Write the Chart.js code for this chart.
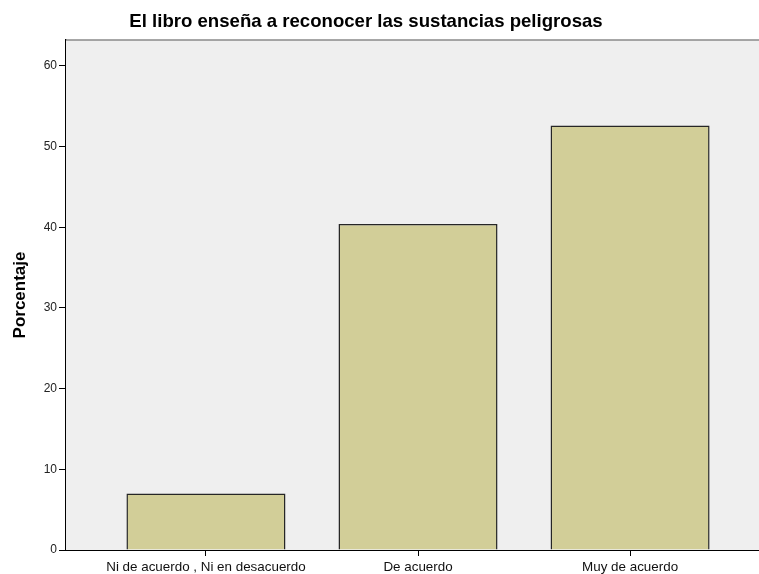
<!DOCTYPE html>
<html>
<head>
<meta charset="utf-8">
<script src="https://cdn.jsdelivr.net/npm/chart.js@4/dist/chart.umd.min.js"></script>
<style>
  html, body { margin: 0; padding: 0; background: #ffffff; }
  #wrap { position: relative; width: 759px; height: 574px; }
</style>
</head>
<body>
<div id="wrap"><canvas id="c" width="759" height="574"></canvas></div>
<script>
const chartTitle = 'El libro enseña a reconocer las sustancias peligrosas';
const yAxisTitle = 'Porcentaje';
const categories = ['Ni de acuerdo , Ni en desacuerdo', 'De acuerdo', 'Muy de acuerdo'];
const percentages = [7.0, 40.4, 52.6];
const yTickValues = [0, 10, 20, 30, 40, 50, 60];

const FONT = "'Liberation Sans', Arial, sans-serif";

const plotDecor = {
  id: 'plotDecor',
  beforeDatasetsDraw(chart) {
    const { ctx, chartArea: a } = chart;
    ctx.save();
    ctx.fillStyle = '#efefef';
    ctx.fillRect(a.left, a.top, a.right - a.left, a.bottom - a.top);
    ctx.strokeStyle = '#8a8a8a';
    ctx.lineWidth = 1.5;
    ctx.beginPath();
    ctx.moveTo(a.left, a.top);
    ctx.lineTo(a.right, a.top);
    ctx.stroke();
    ctx.restore();
  },
  afterDraw(chart) {
    const { ctx } = chart;
    ctx.save();
    ctx.font = 'bold 18.6px ' + FONT;
    ctx.fillStyle = '#000';
    ctx.textAlign = 'center';
    ctx.textBaseline = 'alphabetic';
    ctx.fillText(chartTitle, 366, 27);
    ctx.restore();
  }
};

new Chart(document.getElementById('c'), {
  type: 'bar',
  data: {
    datasets: [{
      data: percentages.map((v, i) => ({ x: i, y: v })),
      backgroundColor: '#d2ce98',
      borderColor: '#262626',
      borderWidth: 1.5,
      categoryPercentage: 1,
      barPercentage: 0.75
    }]
  },
  options: {
    responsive: false,
    animation: false,
    layout: { padding: { top: 40, left: 0, right: 0, bottom: 0 } },
    plugins: { legend: { display: false }, tooltip: { enabled: false }, title: { display: false } },
    scales: {
      x: {
        type: 'linear',
        offset: false,
        min: -0.66,
        max: 2.608,
        afterBuildTicks(scale) { scale.ticks = categories.map((c, i) => ({ value: i })); },
        afterFit(scale) { scale.height = 24; },
        grid: { offset: false, drawOnChartArea: false, drawTicks: true, tickLength: 6, color: '#000', lineWidth: 1 },
        border: { display: true, color: '#000', width: 1 },
        ticks: {
          autoSkip: false,
          maxRotation: 0,
          padding: 3,
          color: '#111',
          font: { family: FONT, size: 13.4 },
          callback: (v) => categories[v] !== undefined ? categories[v] : ''
        }
      },
      y: {
        min: 0,
        max: 63.2,
        afterBuildTicks(scale) { scale.ticks = yTickValues.map(v => ({ value: v })); },
        afterFit(scale) { scale.width = 66; },
        grid: { drawOnChartArea: false, drawTicks: true, tickLength: 7, color: '#000', lineWidth: 1 },
        border: { display: true, color: '#000', width: 1.5 },
        ticks: {
          padding: 2,
          color: '#222',
          font: { family: FONT, size: 12 }
        },
        title: {
          display: true,
          text: yAxisTitle,
          color: '#000',
          font: { family: FONT, size: 17, weight: 'bold' },
          padding: { top: 10, bottom: 0 }
        }
      }
    }
  },
  plugins: [plotDecor]
});
</script>
</body>
</html>
